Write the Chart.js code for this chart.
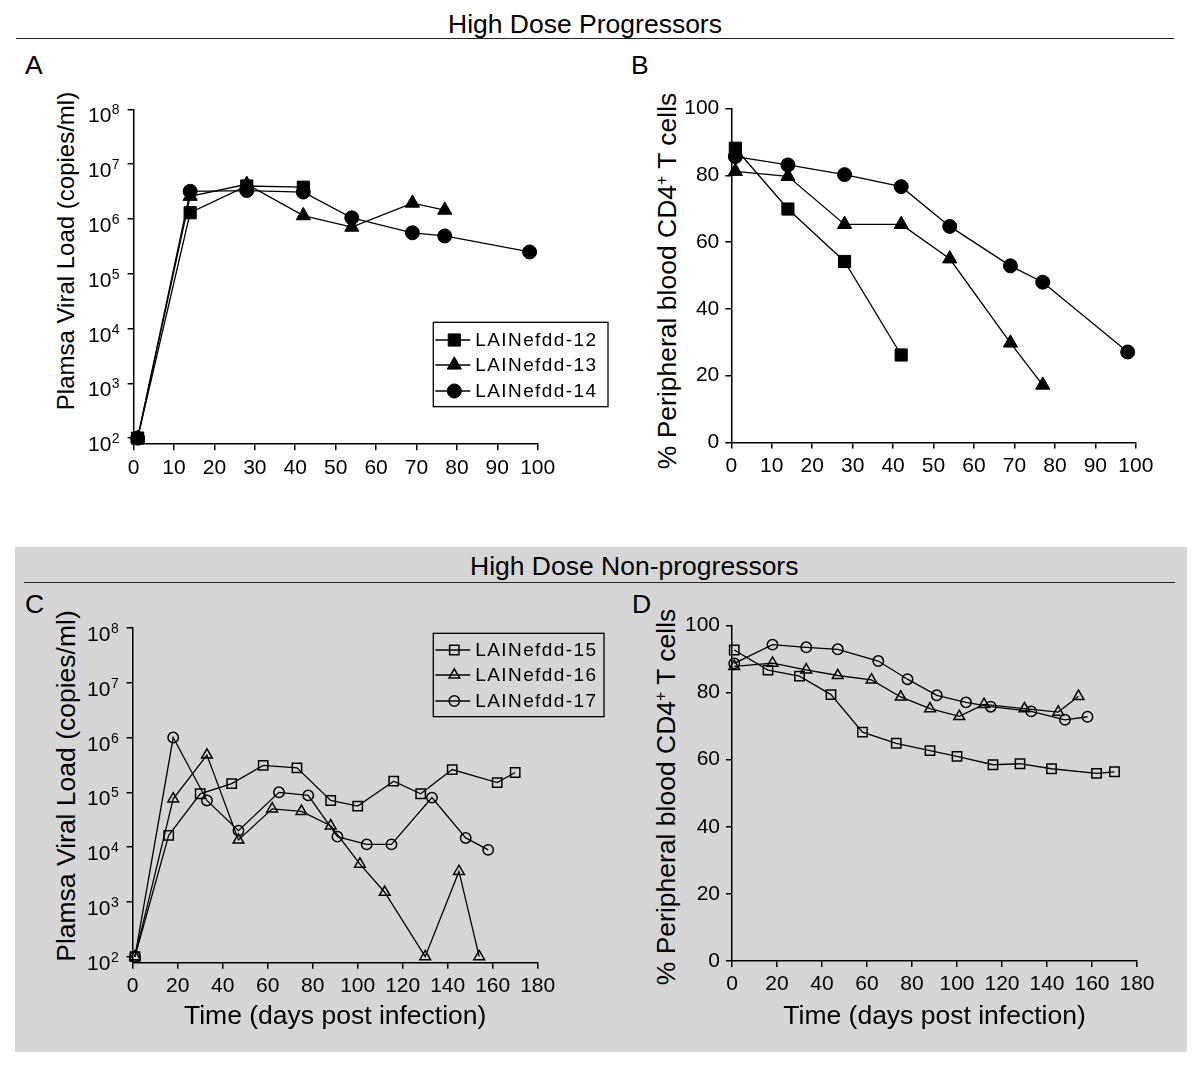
<!DOCTYPE html>
<html>
<head>
<meta charset="utf-8">
<script src="https://cdn.jsdelivr.net/npm/chart.js@4.4.1/dist/chart.umd.min.js"></script>
<style>
  html,body{margin:0;padding:0;background:#fff;}
  body{width:1200px;height:1070px;position:relative;overflow:hidden;font-family:"Liberation Sans",Arial,Helvetica,sans-serif;color:#000;}
  .abs{position:absolute;white-space:nowrap;line-height:1;}
  .sect{font-size:26.5px;}
  .letter{font-size:26.5px;}
  .rule{position:absolute;height:0;border-top:1.2px solid #222;}
  .ytitle{position:absolute;white-space:nowrap;line-height:1;transform:translate(-50%,-50%) rotate(-90deg);}
  .ytitle sup{font-size:0.6em;vertical-align:0.55em;line-height:0;}
  canvas{position:absolute;}
</style>
</head>
<body>
<div class="abs" style="left:15px;top:547px;width:1172px;height:505px;background:#d6d6d6;"></div>

<div class="abs sect" style="left:448px;top:11px;">High Dose Progressors</div>
<div class="rule" style="left:16px;top:38px;width:1158px;"></div>
<div class="abs sect" style="left:470px;top:553px;">High Dose Non-progressors</div>
<div class="rule" style="left:24px;top:582px;width:1151px;"></div>

<div class="abs letter" style="left:25px;top:52px;">A</div>
<div class="abs letter" style="left:631px;top:52px;">B</div>
<div class="abs letter" style="left:25px;top:591px;">C</div>
<div class="abs letter" style="left:632px;top:591px;">D</div>

<div class="ytitle" style="left:66px;top:251px;font-size:24px;">Plamsa Viral Load (copies/ml)</div>
<div class="ytitle" style="left:667px;top:281px;font-size:26.5px;">% Peripheral blood CD4<sup>+</sup> T cells</div>
<div class="ytitle" style="left:66px;top:786px;font-size:26.5px;">Plamsa Viral Load (copies/ml)</div>
<div class="ytitle" style="left:666px;top:797px;font-size:26.5px;">% Peripheral blood CD4<sup>+</sup> T cells</div>

<canvas id="cA" width="600" height="440" style="left:20px;top:80px;"></canvas>
<canvas id="cB" width="560" height="440" style="left:620px;top:80px;"></canvas>
<canvas id="cC" width="600" height="440" style="left:20px;top:600px;"></canvas>
<canvas id="cD" width="560" height="440" style="left:620px;top:600px;"></canvas>

<script>
// ---------------- DATA ----------------
const seriesLabelsTop = ["LAINefdd-12", "LAINefdd-13", "LAINefdd-14"];
const seriesLabelsBottom = ["LAINefdd-15", "LAINefdd-16", "LAINefdd-17"];

const logTickExponents = [2, 3, 4, 5, 6, 7, 8];
const xTicksTop = [0, 10, 20, 30, 40, 50, 60, 70, 80, 90, 100];
const xTicksBottom = [0, 20, 40, 60, 80, 100, 120, 140, 160, 180];
const cd4Ticks = [0, 20, 40, 60, 80, 100];

// High dose progressors (days post infection)
const days12 = [1, 14, 28, 42];
const days13 = [1, 14, 28, 42, 54, 69, 77];
const days14 = [1, 14, 28, 42, 54, 69, 77, 98];
// Panel A: plasma viral load (copies/ml)
const vl12 = [100, 1.3e6, 4.0e6, 3.8e6];
const vl13 = [100, 2.6e6, 4.3e6, 1.15e6, 7.1e5, 1.95e6, 1.45e6];
const vl14 = [100, 3.2e6, 3.3e6, 3.1e6, 1.05e6, 5.6e5, 4.9e5, 2.5e5];
// Panel B: % CD4+ T cells
const cd12 = [88.1, 69.9, 54.2, 26.2];
const cd13 = [81.2, 79.7, 65.3, 65.3, 55.0, 29.8, 17.2];
const cd14 = [85.6, 83.1, 80.2, 76.6, 64.7, 52.9, 48.0, 27.1];

// High dose non-progressors
const days15 = [1, 16, 30, 44, 58, 73, 88, 100, 116, 128, 142, 162, 170];
const days16 = [1, 18, 33, 47, 62, 75, 88, 101, 112, 130, 145, 154];
const days17 = [1, 18, 33, 47, 65, 78, 91, 104, 115, 133, 148, 158];
// Panel C: plasma viral load (copies/ml)
const vl15 = [100, 1.64e4, 9.4e4, 1.44e5, 3.1e5, 2.8e5, 7.1e4, 5.6e4, 1.6e5, 9.4e4, 2.6e5, 1.5e5, 2.3e5];
const vl16 = [100, 7.6e4, 4.8e5, 1.35e4, 5.0e4, 4.5e4, 2.45e4, 4.9e3, 1.5e3, 100, 3.6e3, 100];
const vl17 = [100, 1.0e6, 7.1e4, 2.0e4, 1.0e5, 8.8e4, 1.55e4, 1.12e4, 1.12e4, 8.0e4, 1.47e4, 8.9e3];
// Panel D: % CD4+ T cells
const cd15 = [92.7, 86.7, 84.9, 79.4, 68.2, 64.9, 62.7, 61.0, 58.5, 58.8, 57.3, 55.9, 56.4];
const cd16 = [87.8, 88.8, 86.8, 85.1, 83.8, 78.7, 75.2, 72.9, 76.5, 75.2, 74.2, 78.9];
const cd17 = [88.7, 94.3, 93.5, 92.9, 89.4, 84.0, 79.2, 77.1, 75.8, 74.4, 71.9, 72.8];

// ---------------- HELPERS ----------------
const FAM = '"Liberation Sans", Arial, Helvetica, sans-serif';
const pts = (xs, ys) => xs.map((x, i) => ({x: x, y: ys[i]}));
const SUP = {'0':'⁰','1':'¹','2':'²','3':'³','4':'⁴','5':'⁵','6':'⁶','7':'⁷','8':'⁸','9':'⁹'};

function marker(style, r, filled) {
  return {
    pointStyle: style,
    pointRadius: r,
    pointHoverRadius: r,
    pointBorderWidth: filled ? 1 : 1.5,
    pointBackgroundColor: filled ? '#000' : 'rgba(0,0,0,0)',
    pointBorderColor: '#000'
  };
}
function ds(label, data, style, r, filled) {
  return Object.assign({
    label: label, data: data,
    borderColor: '#000', borderWidth: 1.3,
    backgroundColor: filled ? '#000' : 'rgba(0,0,0,0)',
    tension: 0, clip: false, fill: false
  }, marker(style, r, filled));
}

function axisCommon() {
  return {
    grid: {display: true, drawOnChartArea: false, drawTicks: true, tickLength: 6, color: '#000', lineWidth: 1.5},
    border: {display: true, color: '#000', width: 1.5}
  };
}
function xScale(ticks, height, title) {
  return Object.assign(axisCommon(), {
    type: 'linear', min: ticks[0], max: ticks[ticks.length - 1],
    afterBuildTicks: s => { s.ticks = ticks.map(v => ({value: v})); },
    ticks: {font: {size: 21, family: FAM}, color: '#000', padding: 5, maxRotation: 0, autoSkip: false},
    title: title ? {display: true, text: title, color: '#000', font: {size: 26.5, family: FAM}, padding: {top: 0, bottom: 7}} : {display: false},
    afterFit: s => { s.height = height; }
  });
}
function yLogScale(width) {
  return Object.assign(axisCommon(), {
    type: 'logarithmic', min: 77.5, max: 1e8,
    afterBuildTicks: s => { s.ticks = logTickExponents.map(e => ({value: Math.pow(10, e)})); },
    ticks: {display: false, autoSkip: false,
      callback: v => '10' + String(Math.round(Math.log10(v))).split('').map(c => SUP[c]).join('')},
    afterFit: s => { s.width = width; }
  });
}
function yLinScale(width) {
  return Object.assign(axisCommon(), {
    type: 'linear', min: 0, max: 100,
    afterBuildTicks: s => { s.ticks = cd4Ticks.map(v => ({value: v})); },
    ticks: {font: {size: 21, family: FAM}, color: '#000', padding: 6, autoSkip: false},
    afterFit: s => { s.width = width; }
  });
}

// draws 10 with a raised exponent for the log axes
const powLabels = {
  id: 'powLabels',
  afterDraw(chart) {
    const s = chart.scales.y;
    if (!s || s.type !== 'logarithmic') return;
    const ctx = chart.ctx;
    ctx.save();
    ctx.fillStyle = '#000';
    ctx.textAlign = 'right';
    ctx.textBaseline = 'alphabetic';
    s.ticks.forEach(t => {
      const e = String(Math.round(Math.log10(t.value)));
      const y = s.getPixelForValue(t.value);
      const xr = s.right - 14;
      ctx.font = '14px ' + FAM;
      ctx.fillText(e, xr, y + 5);
      const ew = ctx.measureText(e).width;
      ctx.font = '21px ' + FAM;
      ctx.fillText('10', xr - ew - 0.5, y + 13);
    });
    ctx.restore();
  }
};

function drawMark(ctx, d, x, y) {
  const opts = {pointStyle: d.pointStyle, radius: d.pointRadius, rotation: 0, borderWidth: d.pointBorderWidth};
  ctx.fillStyle = d.pointBackgroundColor;
  ctx.strokeStyle = d.pointBorderColor;
  ctx.lineWidth = d.pointBorderWidth;
  if (Chart.helpers && Chart.helpers.drawPoint) {
    Chart.helpers.drawPoint(ctx, opts, x, y);
  }
}

// boxed legend placed inside the plot, as in the figure
const boxLegend = {
  id: 'boxLegend',
  afterDraw(chart, args, o) {
    if (!o || !o.box) return;
    const ctx = chart.ctx;
    const [bx, by, bw, bh] = o.box;
    ctx.save();
    ctx.strokeStyle = '#000';
    ctx.lineWidth = 1.3;
    ctx.strokeRect(bx, by, bw, bh);
    chart.data.datasets.forEach((d, i) => {
      const y = by + o.rows[i];
      ctx.strokeStyle = '#000';
      ctx.lineWidth = 1.3;
      ctx.beginPath();
      ctx.moveTo(bx + 2, y);
      ctx.lineTo(bx + 37, y);
      ctx.stroke();
      drawMark(ctx, d, bx + 21, y);
      ctx.fillStyle = '#000';
      ctx.font = '19px ' + FAM;
      try { ctx.letterSpacing = '1.4px'; } catch (e) {}
      ctx.textAlign = 'left';
      ctx.textBaseline = 'middle';
      ctx.fillText(d.label, bx + 42, y + 1);
      try { ctx.letterSpacing = '0px'; } catch (e) {}
    });
    ctx.restore();
  }
};

function baseOptions(pad, scales, legendBox) {
  return {
    responsive: false, maintainAspectRatio: false, animation: false, events: [],
    layout: {padding: pad, autoPadding: false},
    scales: scales,
    plugins: {legend: {display: false}, tooltip: {enabled: false}, boxLegend: legendBox || {}}
  };
}

// ---------------- CHARTS ----------------
new Chart(document.getElementById('cA'), {
  type: 'line',
  data: {datasets: [
    ds(seriesLabelsTop[0], pts(days12, vl12), 'rect', 8.6, true),
    ds(seriesLabelsTop[1], pts(days13, vl13), 'triangle', 8.2, true),
    ds(seriesLabelsTop[2], pts(days14, vl14), 'circle', 7, true)
  ]},
  options: baseOptions({left: 0, top: 29.4, right: 82.3, bottom: 0},
    {x: xScale(xTicksTop, 75.8, null), y: yLogScale(113.6)},
    {box: [413.3, 242.3, 174.7, 84.4], rows: [17.7, 42.7, 68.7]}),
  plugins: [powLabels, boxLegend]
});

new Chart(document.getElementById('cB'), {
  type: 'line',
  data: {datasets: [
    ds(seriesLabelsTop[0], pts(days12, cd12), 'rect', 8.6, true),
    ds(seriesLabelsTop[1], pts(days13, cd13), 'triangle', 8.2, true),
    ds(seriesLabelsTop[2], pts(days14, cd14), 'circle', 7, true)
  ]},
  options: baseOptions({left: 0, top: 28.5, right: 44.2, bottom: 0},
    {x: xScale(xTicksTop, 77.5, null), y: yLinScale(111.3)}),
  plugins: []
});

new Chart(document.getElementById('cC'), {
  type: 'line',
  data: {datasets: [
    ds(seriesLabelsBottom[0], pts(days15, vl15), 'rect', 6.6, false),
    ds(seriesLabelsBottom[1], pts(days16, vl16), 'triangle', 6.2, false),
    ds(seriesLabelsBottom[2], pts(days17, vl17), 'circle', 5.2, false)
  ]},
  options: baseOptions({left: 0, top: 28, right: 82.3, bottom: 0},
    {x: xScale(xTicksBottom, 77.3, 'Time (days post infection)'), y: yLogScale(112.7)},
    {box: [413.3, 33.3, 170.7, 83.4], rows: [16.7, 41.7, 67.7]}),
  plugins: [powLabels, boxLegend]
});

new Chart(document.getElementById('cD'), {
  type: 'line',
  data: {datasets: [
    ds(seriesLabelsBottom[0], pts(days15, cd15), 'rect', 6.6, false),
    ds(seriesLabelsBottom[1], pts(days16, cd16), 'triangle', 6.2, false),
    ds(seriesLabelsBottom[2], pts(days17, cd17), 'circle', 5.2, false)
  ]},
  options: baseOptions({left: 0, top: 25.5, right: 43, bottom: 0},
    {x: xScale(xTicksBottom, 79, 'Time (days post infection)'), y: yLinScale(112)}),
  plugins: []
});
</script>
</body>
</html>
